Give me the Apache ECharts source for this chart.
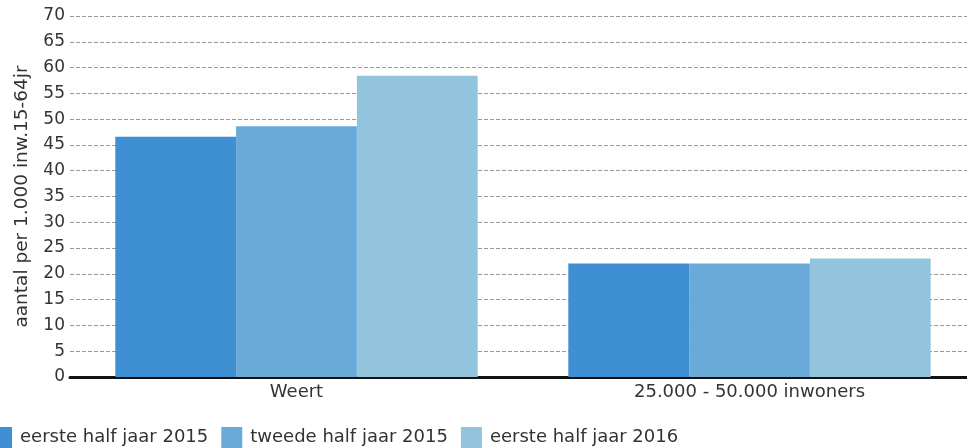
<!DOCTYPE html>
<html>
<head>
<meta charset="utf-8">
<script src="https://cdn.jsdelivr.net/npm/echarts@6/dist/echarts.min.js"></script>
<style>
html,body{margin:0;padding:0;background:#fff;}
#chart{width:967px;height:448px;}
</style>
</head>
<body>
<div id="chart"></div>
<script>
var categories = ['Weert', '25.000 - 50.000 inwoners'];
var seriesNames = ['eerste half jaar 2015', 'tweede half jaar 2015', 'eerste half jaar 2016'];
var eersteHalf2015 = [46.6, 22.0];
var tweedeHalf2015 = [48.6, 22.0];
var eersteHalf2016 = [58.4, 23.0];
var yAxisTitle = 'aantal per 1.000 inw.15-64jr';
var colors = ['#3f8fd3', '#69aad8', '#92c4de'];

var chart = echarts.init(document.getElementById('chart'));
var font = 'DejaVu Sans';
var dataSets = [eersteHalf2015, tweedeHalf2015, eersteHalf2016];
chart.setOption({
  animation: false,
  textStyle: {fontFamily: font},
  grid: {left: 70, width: 906, top: 16, bottom: 71, containLabel: false, outerBoundsMode: 'none'},
  legend: {
    left: -9, top: 427, padding: 0,
    itemWidth: 21, itemHeight: 21, itemGap: 13,
    icon: 'rect',
    textStyle: {fontFamily: font, fontSize: 18, color: '#333', padding: [0, 0, 0, 3]},
    data: seriesNames
  },
  xAxis: {
    type: 'category',
    data: categories,
    axisLine: {lineStyle: {color: '#111', width: 3}},
    axisTick: {show: false},
    axisLabel: {fontFamily: font, fontSize: 18, color: '#333', margin: 6}
  },
  yAxis: {
    type: 'value',
    min: 0, max: 70, interval: 5,
    name: yAxisTitle,
    nameLocation: 'middle',
    nameGap: 38,
    nameTextStyle: {fontFamily: font, fontSize: 18.5, color: '#333'},
    axisLine: {show: false},
    axisTick: {show: false},
    axisLabel: {fontFamily: font, fontSize: 17, color: '#333', margin: 5},
    splitLine: {lineStyle: {color: '#999', type: [4, 2], width: 1}}
  },
  series: dataSets.map(function (d, i) {
    return {
      name: seriesNames[i],
      type: 'bar',
      data: d,
      barGap: '0%',
      barCategoryGap: '20%',
      itemStyle: {color: colors[i]}
    };
  })
});
</script>
</body>
</html>
